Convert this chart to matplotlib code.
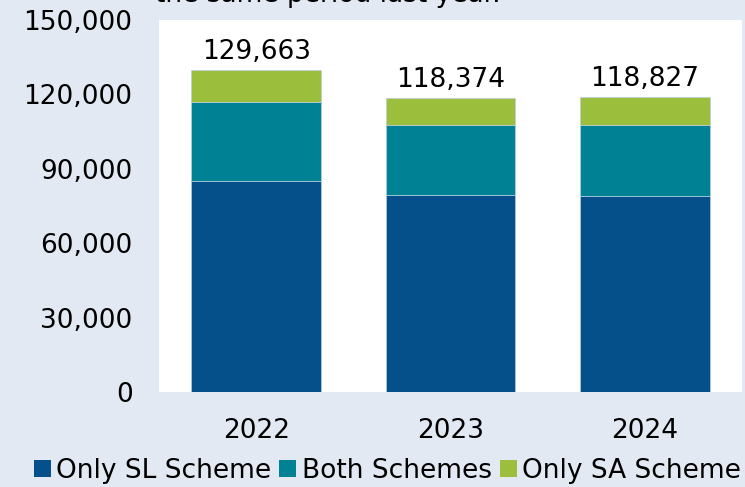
import numpy as np
import matplotlib
matplotlib.use('Agg')
import matplotlib.pyplot as plt
from matplotlib.patches import Patch

years = ['2022', '2023', '2024']
totals = [129663, 118374, 118827]
only_sl = [85200, 79550, 79150]
both = [31700, 28000, 28400]
only_sa = [12763, 10824, 11277]
series_names = ['Only SL Scheme', 'Both Schemes', 'Only SA Scheme']
colors = ['#05508A', '#008294', '#9BBE3C']
bg = '#E3E9F3'

plt.rcParams['font.family'] = 'DejaVu Sans'

fig = plt.figure(figsize=(7.45, 4.87), dpi=100, facecolor=bg)
ax = fig.add_axes([0.2134, 0.195, 0.783, 0.764])
ax.set_facecolor('white')

x = np.arange(len(years))
w = 0.667
ax.bar(x, only_sl, w, color=colors[0], edgecolor='#B8CFE0', linewidth=0.5)
ax.bar(x, both, w, bottom=only_sl, color=colors[1], edgecolor='#B8CFE0', linewidth=0.5)
ax.bar(x, only_sa, w, bottom=np.add(only_sl, both), color=colors[2], edgecolor='#B8CFE0', linewidth=0.5)

for xi, t in zip(x, totals):
    ax.annotate(f'{t:,}', (xi, t), xytext=(0, 4), textcoords='offset points',
                ha='center', va='bottom', fontsize=19)

ax.set_xlim(-0.5, 2.5)
ax.set_ylim(0, 150000)
ax.set_yticks(np.arange(0, 150001, 30000))
ax.yaxis.set_major_formatter(matplotlib.ticker.FuncFormatter(lambda v, p: f'{int(v):,}'))
ax.set_xticks(x)
ax.set_xticklabels(years)
ax.tick_params(axis='y', length=0, pad=19, labelsize=19)
ax.tick_params(axis='x', length=0, pad=19, labelsize=19)
for s in ax.spines.values():
    s.set_visible(False)

fig.text(0.208, 0.996, 'the same period last year.', fontsize=19, va='baseline', ha='left')

handles = [Patch(facecolor=c, edgecolor='none') for c in colors]
fig.legend(handles, series_names, loc='center', bbox_to_anchor=(0.52, 0.033), ncol=3,
           frameon=False, fontsize=19, handlelength=0.65, handleheight=0.65,
           handletextpad=0.2, columnspacing=0.3, borderaxespad=0)

plt.savefig('out.png', dpi=100, facecolor=bg)
